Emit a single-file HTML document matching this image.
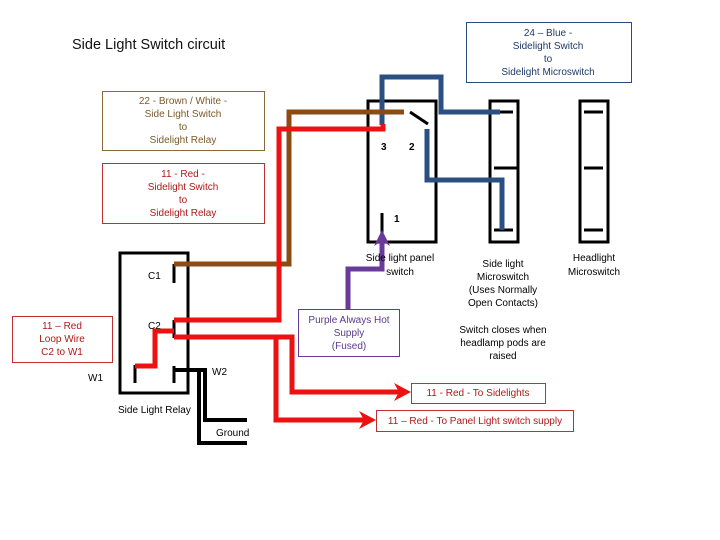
<!DOCTYPE html>
<html><head><meta charset="utf-8"><style>
html,body{margin:0;padding:0;background:#fff}
svg{display:block}
text{font-family:"Liberation Sans",sans-serif;font-size:10px}
</style></head><body>
<svg width="720" height="540" viewBox="0 0 720 540" xmlns="http://www.w3.org/2000/svg">
<rect width="720" height="540" fill="#fff"/>
<text x="72" y="49" style="font-size:14.5px" fill="#111">Side Light Switch circuit</text>

<!-- label boxes -->
<rect x="466.5" y="22.5" width="165" height="60" fill="none" stroke="#2a4a7a" stroke-width="1"/>
<g text-anchor="middle" fill="#1f3a68">
<text x="548" y="36">24 – Blue  -</text><text x="548" y="49">Sidelight Switch</text>
<text x="548" y="62">to</text><text x="548" y="75">Sidelight Microswitch</text></g>

<rect x="102.5" y="91.5" width="162" height="59" fill="none" stroke="#8a6a3a" stroke-width="1"/>
<g text-anchor="middle" fill="#7a5a2a">
<text x="183" y="104">22 - Brown / White  -</text><text x="183" y="117">Side Light Switch</text>
<text x="183" y="130">to</text><text x="183" y="143">Sidelight Relay</text></g>

<rect x="102.5" y="163.5" width="162" height="60" fill="none" stroke="#c03030" stroke-width="1"/>
<g text-anchor="middle" fill="#b01818">
<text x="183" y="177">11 - Red  -</text><text x="183" y="190">Sidelight Switch</text>
<text x="183" y="203">to</text><text x="183" y="216">Sidelight Relay</text></g>

<rect x="12.5" y="316.5" width="100" height="46" fill="none" stroke="#c03030" stroke-width="1"/>
<g text-anchor="middle" fill="#b01818">
<text x="62" y="329">11 – Red</text><text x="62" y="342">Loop Wire</text><text x="62" y="355">C2 to W1</text></g>

<rect x="298.5" y="309.5" width="101" height="47" fill="none" stroke="#6a3a9a" stroke-width="1"/>
<g text-anchor="middle" fill="#5a3a8a">
<text x="349" y="323">Purple Always Hot</text><text x="349" y="336">Supply</text><text x="349" y="349">(Fused)</text></g>

<rect x="411.5" y="383.5" width="134" height="20" fill="none" stroke="#c03030" stroke-width="1"/>
<text x="478" y="396" text-anchor="middle" fill="#b01818">11 - Red  - To Sidelights</text>
<rect x="376.5" y="410.5" width="197" height="21" fill="none" stroke="#c03030" stroke-width="1"/>
<text x="475" y="424" text-anchor="middle" fill="#b01818">11 – Red  - To Panel Light switch supply</text>

<!-- boxes -->
<g fill="none" stroke="#000" stroke-width="3">
<rect x="120" y="253" width="68" height="140"/>
<rect x="368" y="101" width="68" height="141"/>
<rect x="490" y="101" width="28" height="141"/>
<rect x="580" y="101" width="28" height="141"/>
</g>
<g stroke="#000" stroke-width="3">
<line x1="174" y1="264" x2="174" y2="283"/>
<line x1="174" y1="320" x2="174" y2="338"/>
<line x1="174" y1="366" x2="174" y2="383"/>
<line x1="135" y1="365" x2="135" y2="383"/>
<line x1="382" y1="213" x2="382" y2="240"/>
<line x1="410" y1="112" x2="428" y2="124"/>
<line x1="500" y1="112" x2="513" y2="112"/>
<line x1="494" y1="168" x2="518" y2="168"/>
<line x1="494" y1="230" x2="513" y2="230"/>
<line x1="584" y1="112" x2="603" y2="112"/>
<line x1="584" y1="168" x2="603" y2="168"/>
<line x1="584" y1="230" x2="603" y2="230"/>
</g>
<!-- ground -->
<g fill="none" stroke="#000" stroke-width="4">
<polyline points="174,370 199,370 199,443 247,443"/>
<polyline points="199,370 205,370 205,420 247,420"/>
</g>

<!-- wires -->
<g fill="none" stroke-width="5" stroke-linejoin="miter">
<polyline stroke="#2a4f80" points="382,125 382,77 441,77 441,112 500,112"/>
<polyline stroke="#2a4f80" points="427,129 427,180 502,180 502,230"/>
<polyline stroke="#8b4c14" points="174,264 289,264 289,112 404,112"/>
<polyline stroke="#ee1111" points="174,320 279,320 279,129 383,129 383,124"/>
<polyline stroke="#ee1111" points="174,337 292,337 292,392 400,392"/>
<polyline stroke="#ee1111" points="276,337 276,420 366,420"/>
<polyline stroke="#ee1111" points="174,331 155,331 155,366 135,366"/>
<polyline stroke="#6a3a9a" points="348,310 348,269 382,269 382,238"/>
</g>
<g>
<polygon fill="#ee1111" points="394,383 411,392 394,401 399,392"/>
<polygon fill="#ee1111" points="359,411 376,420 359,429 364,420"/>
<polygon fill="#6a3a9a" points="374,246 382,230 390,246 382,241"/>
</g>

<!-- small labels -->
<g fill="#000">
<text x="148" y="279">C1</text><text x="148" y="329">C2</text>
<text x="88" y="381">W1</text><text x="212" y="375">W2</text>
<text x="118" y="413">Side Light Relay</text><text x="216" y="436">Ground</text>
<text x="381" y="150" font-weight="bold">3</text><text x="409" y="150" font-weight="bold">2</text><text x="394" y="222" font-weight="bold">1</text>
</g>
<g text-anchor="middle" fill="#000">
<text x="400" y="261">Side light panel</text><text x="400" y="275">switch</text>
<text x="503" y="267">Side light</text><text x="503" y="280">Microswitch</text>
<text x="503" y="293">(Uses Normally</text><text x="503" y="306">Open Contacts)</text>
<text x="594" y="261">Headlight</text><text x="594" y="275">Microswitch</text>
<text x="503" y="333">Switch closes when</text><text x="503" y="346">headlamp pods are</text><text x="503" y="359">raised</text>
</g>
</svg>
</body></html>
